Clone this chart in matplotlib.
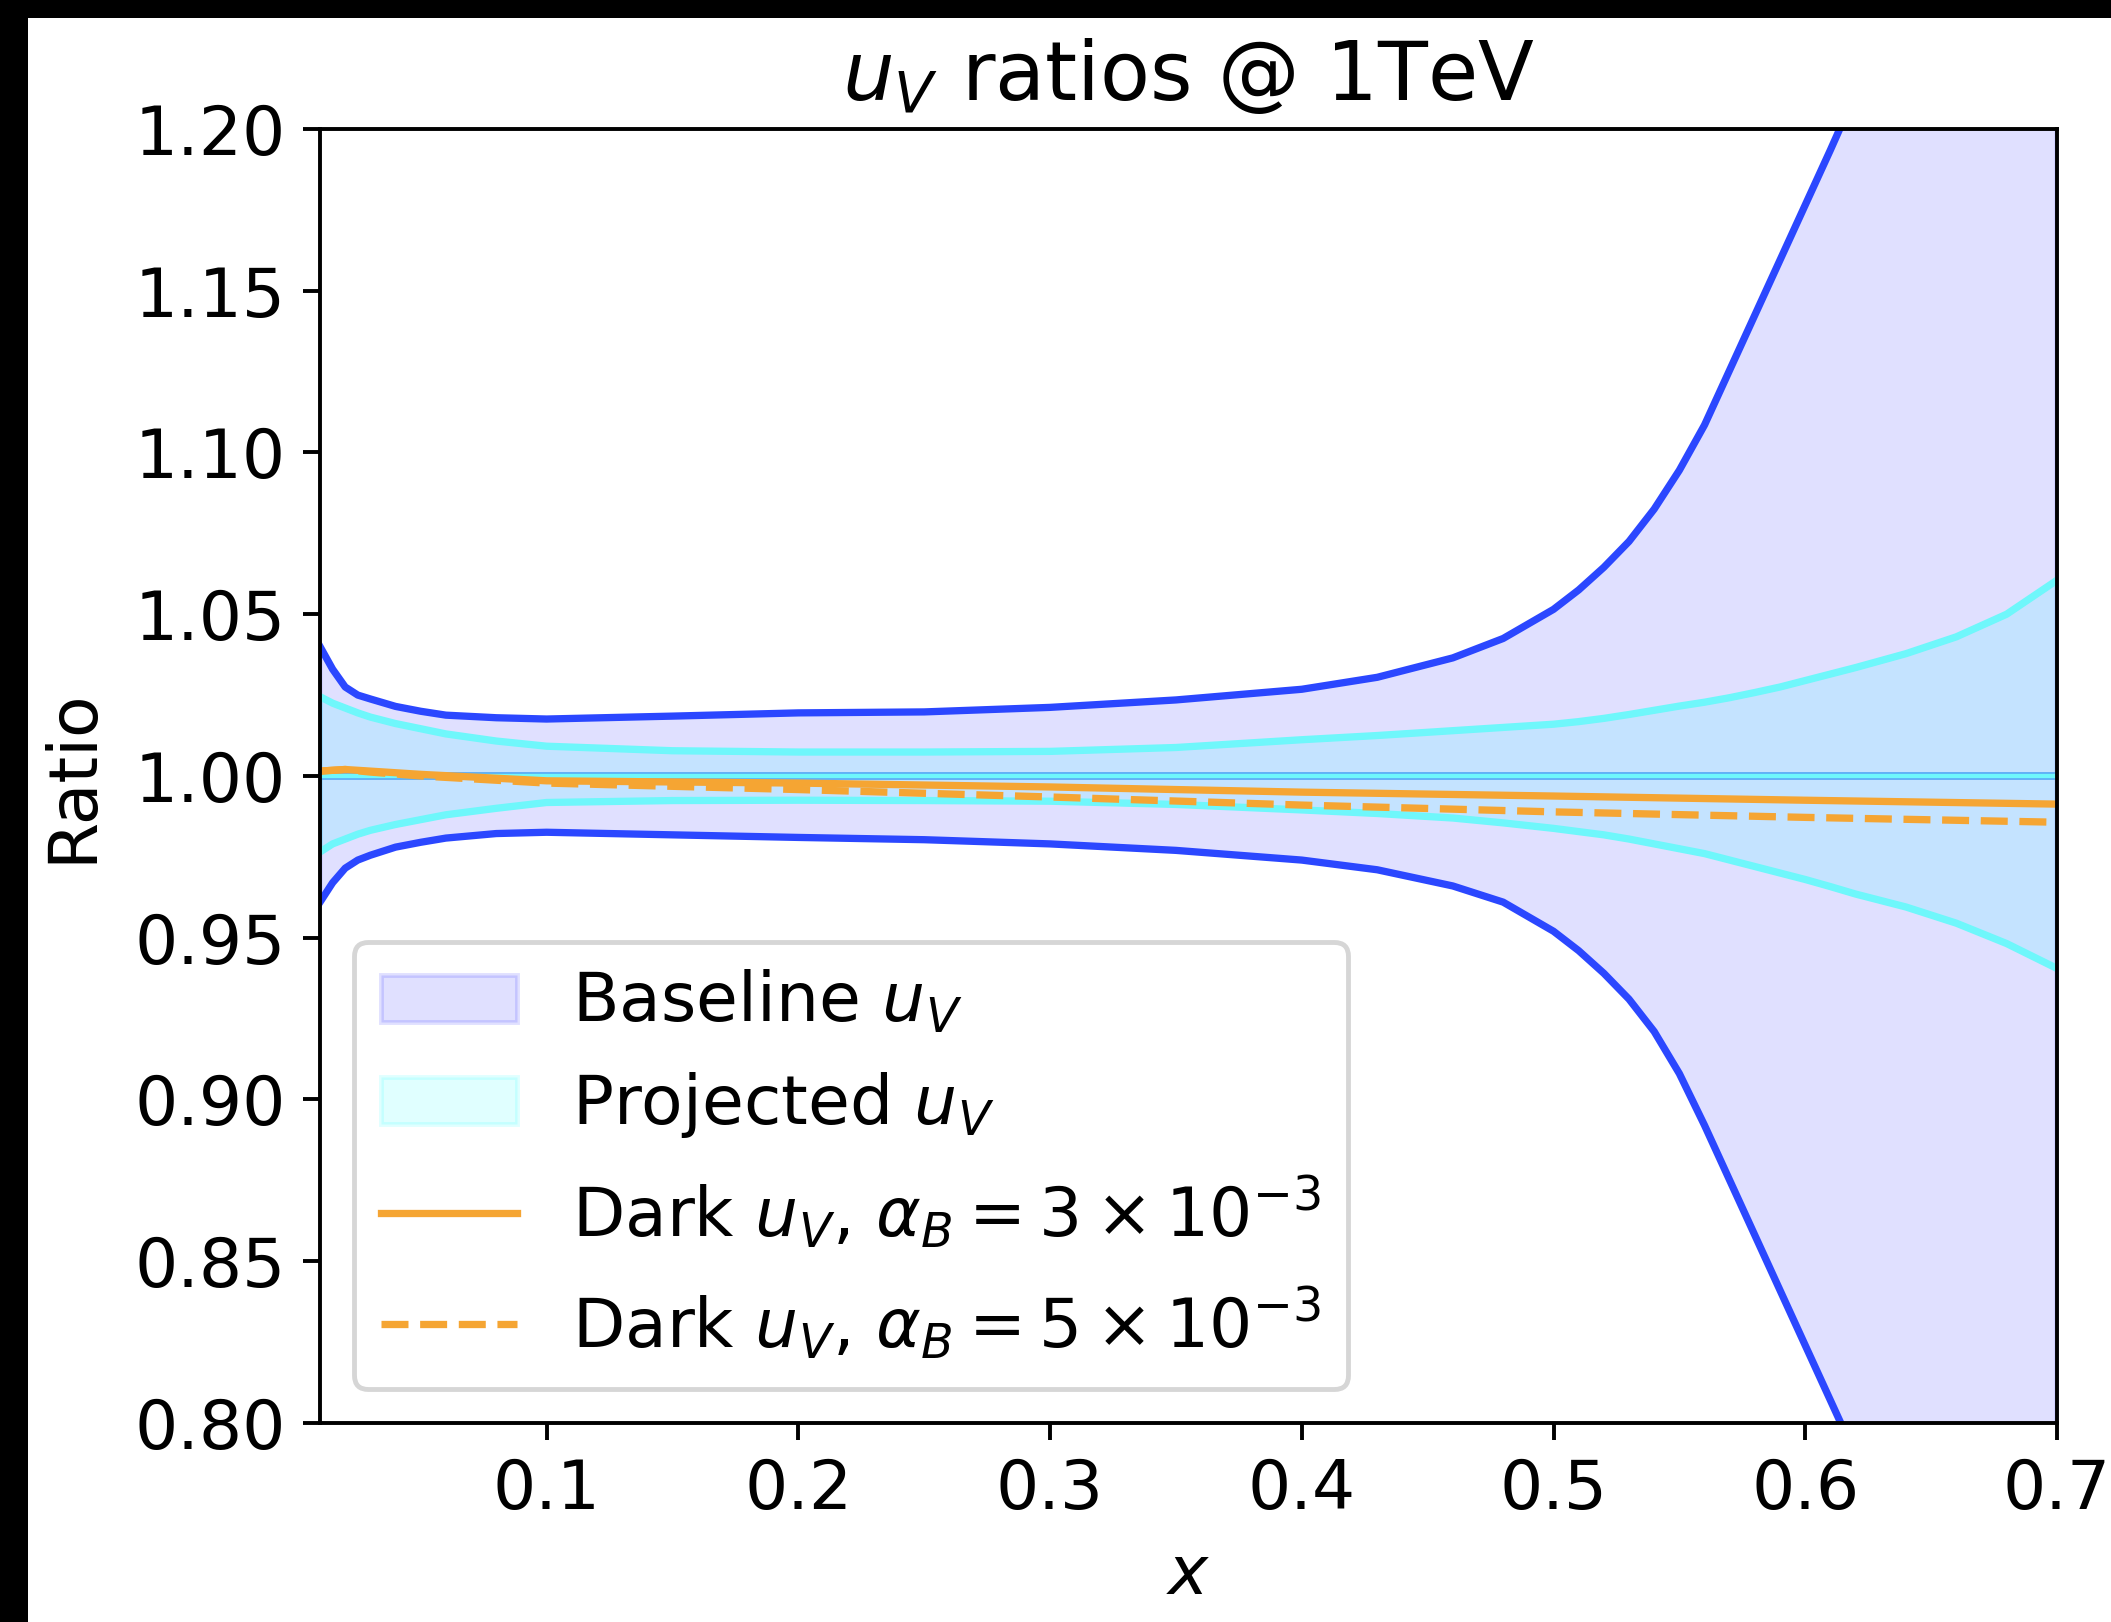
import numpy as np
import matplotlib
matplotlib.use("Agg")
import matplotlib.pyplot as plt
from matplotlib.patches import Rectangle

# ratios to the baseline central value
x_band = [0.01, 0.015, 0.02, 0.025, 0.03, 0.04, 0.05, 0.06, 0.08, 0.1, 0.15, 0.2,
          0.25, 0.3, 0.35, 0.4, 0.43, 0.46, 0.48, 0.5, 0.51, 0.52, 0.53, 0.54, 0.55,
          0.56, 0.57, 0.58, 0.59, 0.6, 0.61, 0.62, 0.64, 0.66, 0.68, 0.7]

base_hi = [1.040, 1.033, 1.0275, 1.025, 1.0238, 1.0215, 1.0200, 1.0188, 1.0180, 1.0176,
           1.0185, 1.0195, 1.0198, 1.0212, 1.0235, 1.0268, 1.0305, 1.0365, 1.0425, 1.0515,
           1.0575, 1.0645, 1.0725, 1.0825, 1.0945, 1.1085, 1.1255, 1.1425, 1.1595, 1.1765,
           1.1935, 1.2110, 1.2470, 1.2830, 1.3200, 1.3570]
base_lo = [0.961, 0.967, 0.9715, 0.974, 0.9755, 0.978, 0.9795, 0.9808, 0.9822, 0.9826,
           0.9818, 0.9810, 0.9803, 0.9790, 0.9770, 0.9740, 0.9710, 0.9660, 0.9610, 0.9520,
           0.9460, 0.9390, 0.9310, 0.9210, 0.9080, 0.8920, 0.8750, 0.8580, 0.8410, 0.8240,
           0.8070, 0.7900, 0.7550, 0.7200, 0.6830, 0.6450]

proj_hi = [1.0245, 1.0225, 1.0210, 1.0195, 1.0182, 1.0162, 1.0146, 1.0130, 1.0108, 1.0092,
           1.0078, 1.0074, 1.0074, 1.0076, 1.0088, 1.0112, 1.0125, 1.0140, 1.0150, 1.0160,
           1.0168, 1.0178, 1.0190, 1.0203, 1.0216, 1.0228, 1.0242, 1.0258, 1.0275, 1.0295,
           1.0315, 1.0335, 1.0378, 1.0430, 1.0500, 1.0605]
proj_lo = [0.9765, 0.9790, 0.9805, 0.9820, 0.9832, 0.9850, 0.9865, 0.9880, 0.9900, 0.9918,
           0.9924, 0.9925, 0.9924, 0.9922, 0.9912, 0.9895, 0.9884, 0.9870, 0.9855, 0.9838,
           0.9828, 0.9818, 0.9805, 0.9790, 0.9775, 0.9760, 0.9740, 0.9720, 0.9700, 0.9680,
           0.9658, 0.9635, 0.9595, 0.9545, 0.9482, 0.9405]

x_dark = [0.01, 0.02, 0.03, 0.05, 0.1, 0.2, 0.3, 0.4, 0.5, 0.6, 0.7]
dark_3 = [1.0015, 1.002, 1.0015, 1.0005, 0.9985, 0.9978, 0.9966, 0.9950, 0.9938, 0.9925, 0.9913]
dark_5 = [1.0015, 1.002, 1.0012, 1.0000, 0.9978, 0.9958, 0.9935, 0.9910, 0.9889, 0.9872, 0.9857]

xticks = [0.1, 0.2, 0.3, 0.4, 0.5, 0.6, 0.7]
yticks = [0.80, 0.85, 0.90, 0.95, 1.00, 1.05, 1.10, 1.15, 1.20]

plt.rcParams['font.size'] = 14

dpi = 350
fig = plt.figure(figsize=(2111 / dpi, 1622 / dpi), dpi=dpi, facecolor='black')
# white page with the black margin on the left and top
fig.add_artist(Rectangle((28 / 2111, 0), 1, (1622 - 18) / 1622,
                         transform=fig.transFigure, facecolor='white',
                         edgecolor='none', zorder=-1))
ax = fig.add_axes([0.1516, 0.1227, 0.9744 - 0.1516, 0.9205 - 0.1227])

ax.fill_between(x_band, base_lo, base_hi, color='blue', alpha=0.12, label=r'Baseline $u_V$')
ax.plot(x_band, base_hi, color='#2b47ff', lw=1.5)
ax.plot(x_band, base_lo, color='#2b47ff', lw=1.5)

ax.fill_between(x_band, proj_lo, proj_hi, color='cyan', alpha=0.12, label=r'Projected $u_V$')
ax.plot(x_band, proj_hi, color='#6ff7fb', lw=1.5)
ax.plot(x_band, proj_lo, color='#6ff7fb', lw=1.5)

ax.axhline(1.0, color='#5aaaf5', lw=1.6)
ax.axhline(1.0, color='#6ff7fb', lw=0.9)

ax.plot(x_dark, dark_3, color='#f5a533', lw=1.5,
        label=r'Dark $u_V$, $\alpha_B = 3\times10^{-3}$')
ax.plot(x_dark, dark_5, color='#f5a533', lw=1.5, ls='--',
        label=r'Dark $u_V$, $\alpha_B = 5\times10^{-3}$')

ax.set_xlim(0.01, 0.7)
ax.set_ylim(0.8, 1.2)
ax.set_xticks(xticks)
ax.set_yticks(yticks)
ax.set_yticklabels([f'{v:.2f}' for v in yticks])
ax.set_xlabel(r'$x$')
ax.set_ylabel('Ratio', labelpad=6)
ax.set_title(r'$u_V$ ratios @ 1TeV')
ax.legend(loc='lower left')

fig.savefig('out.png', dpi=dpi, facecolor='black')
